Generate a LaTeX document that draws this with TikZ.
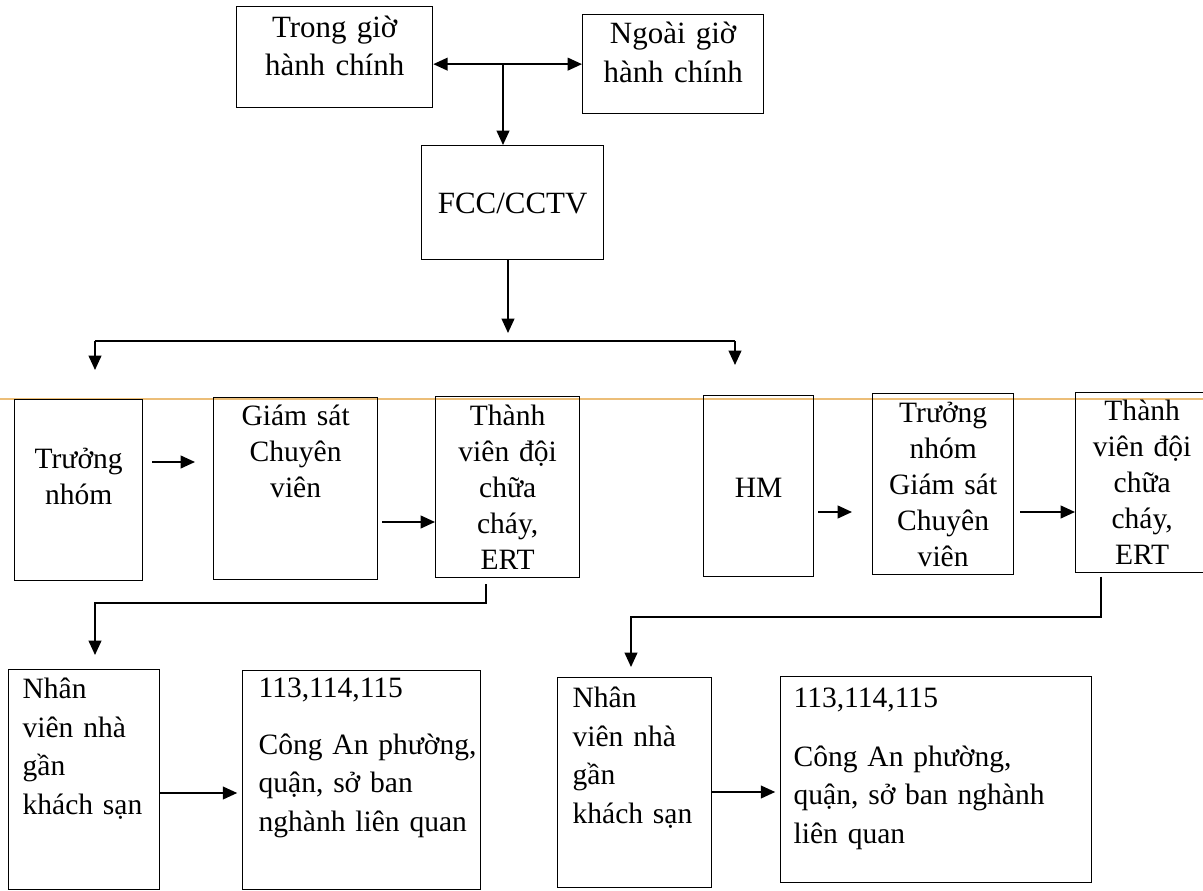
\documentclass[tikz,border=0pt]{standalone}
\usepackage{fontspec}
\setmainfont{Liberation Serif}
\usetikzlibrary{arrows.meta}
\definecolor{scanline}{RGB}{236,190,120}
\newcommand\padlines[2]{\hspace*{#1}\begin{tabular}[t]{@{}l@{}}#2\end{tabular}}

\begin{document}
\begin{tikzpicture}[x=0.025cm,y=-0.025cm,>={Triangle[length=0.36cm,width=0.32cm]},line width=1.2pt,
                box/.style={draw=black,line width=0.9pt,shape=rectangle,inner sep=0pt,anchor=north west,align=center,font=\fontsize{21}{25.5}\selectfont},
                lbox/.style={box,align=left,font=\fontsize{21}{27.5}\selectfont}]
                \useasboundingbox (0,0) rectangle (1203,891);
                \draw[scanline,line width=0.8pt](0,399) -- (1203,399);

                \node[box,font=\fontsize{22}{27}\selectfont,text width=4.9cm,text height=0.775cm,text depth=1.75cm](trong)at(236,6){Trong giờ\\hành chính};
                \node[box,font=\fontsize{22}{27.5}\selectfont,text width=4.525cm,text height=0.725cm,text depth=1.75cm](ngoai)at(582,14){Ngoài giờ\\hành chính};
                \node[box,font=\fontsize{22}{27}\selectfont,text width=4.55cm,text height=1.7cm,text depth=1.15cm](fcc)at(421,145){FCC/CCTV};

                \node[box,text width=3.2cm,text height=1.725cm,text depth=2.8cm](truongL)at(14,399){Trưởng\\nhóm};
                \node[box,text width=4.1cm,text height=0.7cm,text depth=3.85cm](gsL)at(213,397){Giám sát\\Chuyên\\viên};
                \node[box,text width=3.6cm,text height=0.725cm,text depth=3.8cm](ertL)at(435,396){Thành\\viên đội\\chữa\\cháy,\\ERT};
                \node[box,text width=2.75cm,text height=2.55cm,text depth=1.975cm](hm)at(703,395){HM};
                \node[box,text width=3.525cm,text height=0.725cm,text depth=3.8cm](gsR)at(872,393){Trưởng\\nhóm\\Giám sát\\Chuyên\\viên};
                \node[box,text width=3.325cm,text height=0.7cm,text depth=3.8cm](ertR)at(1075,392){Thành\\viên đội\\chữa\\cháy,\\ERT};

                \node[lbox,text width=3.775cm,text height=0.725cm,text depth=4.775cm](nhanL)at(8,669){\padlines{0.35cm}{Nhân\\viên nhà\\gần\\khách sạn}};
                \node[lbox,text width=5.95cm,text height=0.675cm,text depth=4.8cm](soL)at(242,670){\padlines{0.4cm}{113,114,115\\[0.45cm]Công An phường,\\quận, sở ban\\nghành liên quan}};
                \node[lbox,text width=3.85cm,text height=0.75cm,text depth=4.5cm](nhanR)at(557,677){\padlines{0.375cm}{Nhân\\viên nhà\\gần\\khách sạn}};
                \node[lbox,text width=7.775cm,text height=0.775cm,text depth=4.375cm](soR)at(780,676){\padlines{0.325cm}{113,114,115\\[0.5cm]Công An phường,\\quận, sở ban nghành\\liên quan}};

                \coordinate(mid)at(503,64);
                \coordinate(split)at(508,333);
                \coordinate(bus)at(0,341);
                \coordinate(goL)at(95,370);
                \coordinate(goR)at(735,365);
                \coordinate(cL)at(486,603);
                \coordinate(dL)at(95,655);
                \coordinate(cR)at(1101,617);
                \coordinate(dR)at(631,667);

                \draw[<->](trong.east |- ngoai.west) -- (ngoai.west);
                \draw[->](mid) -- (mid |- fcc.north);
                \draw[->](fcc.south -| split) -- (split);
                \draw(goL |- bus) -- (goR |- bus);
                \draw[->](goL |- bus) -- (goL);
                \draw[->](goR |- bus) -- (goR);

                \draw[->,shorten <=0.22cm,shorten >=0.45cm](truongL.east |- 0,462) -- (gsL.west |- 0,462);
                \draw[->,shorten <=0.1cm](gsL.east |- 0,522) -- (ertL.west |- 0,522);
                \draw[->,shorten <=0.15cm](ertL.south -| cL) -- (cL) -| (dL);
                \draw[->,shorten >=0.12cm](nhanL.east |- 0,793) -- (soL.west |- 0,793);

                \draw[->,shorten <=0.1cm,shorten >=0.5cm](hm.east |- 0,512) -- (gsR.west |- 0,512);
                \draw[->,shorten <=0.15cm](gsR.east |- 0,512) -- (ertR.west |- 0,512);
                \draw[->,shorten <=0.08cm](ertR.south -| cR) -- (cR) -| (dR);
                \draw[->,shorten >=0.12cm](nhanR.east |- 0,792) -- (soR.west |- 0,792);
            \end{tikzpicture}
\end{document}
